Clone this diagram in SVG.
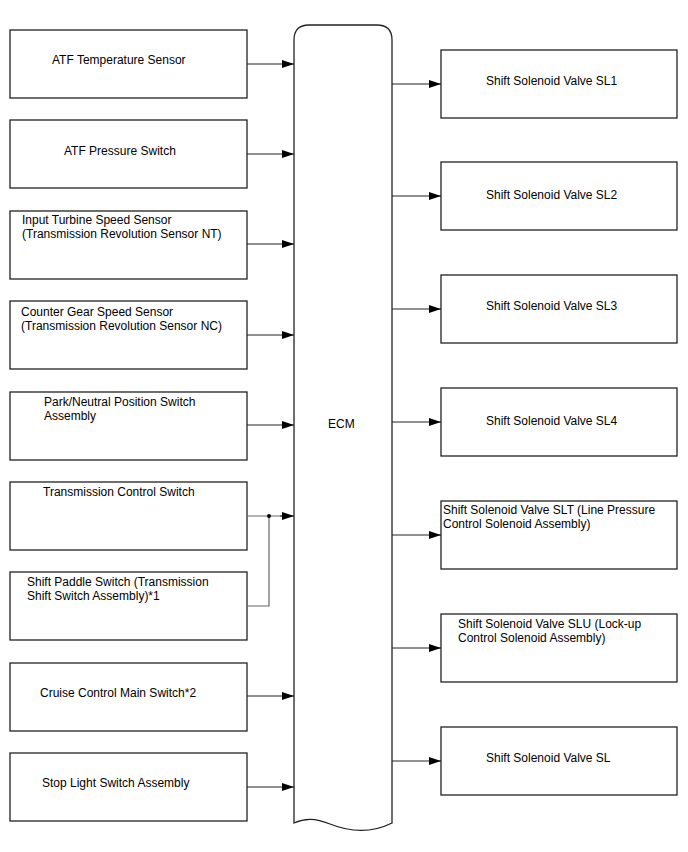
<svg xmlns="http://www.w3.org/2000/svg" width="688" height="852" viewBox="0 0 688 852">
<defs>
<marker id="ah" viewBox="0 0 12 8" refX="12" refY="4" markerWidth="12" markerHeight="8" markerUnits="userSpaceOnUse" orient="auto">
<path d="M0,0 L12,4 L0,8 Z" fill="#000"/>
</marker>
</defs>
<style>
.box{fill:#fff;stroke:#222;stroke-width:1.3}
.ecm{fill:#fff;stroke:#222;stroke-width:1.3}
text{font-family:"Liberation Sans",Arial,sans-serif;font-size:12px;fill:#000}
.c{fill:none;stroke:#222;stroke-width:1;marker-end:url(#ah)}
.j{fill:none;stroke:#666;stroke-width:1.2}
</style>
<rect width="688" height="852" fill="#fff"/>

<g id="ecm">
<path class="ecm" d="M294,823 L294,40 Q294,25 309,25 L377,25 Q392,25 392,40 L392,823 C370,834 350,832 330,824 C315,818 305,818 294,823 Z"/>
<text x="328" y="428">ECM</text>
</g>

<g id="atf-temp"><rect class="box" x="10" y="30" width="237" height="68"/><text x="52" y="64">ATF Temperature Sensor</text></g>
<g id="atf-press"><rect class="box" x="10" y="120" width="237" height="68"/><text x="64" y="155">ATF Pressure Switch</text></g>
<g id="nt-sensor"><rect class="box" x="10" y="211" width="237" height="68"/><text x="22" y="224">Input Turbine Speed Sensor</text><text x="22" y="238">(Transmission Revolution Sensor NT)</text></g>
<g id="nc-sensor"><rect class="box" x="10" y="301" width="237" height="68"/><text x="21" y="316">Counter Gear Speed Sensor</text><text x="21" y="330">(Transmission Revolution Sensor NC)</text></g>
<g id="pnp-switch"><rect class="box" x="10" y="392" width="237" height="68"/><text x="44" y="406">Park/Neutral Position Switch</text><text x="44" y="420">Assembly</text></g>
<g id="tc-switch"><rect class="box" x="10" y="482" width="237" height="68"/><text x="43" y="496">Transmission Control Switch</text></g>
<g id="paddle-switch"><rect class="box" x="10" y="572" width="237" height="68"/><text x="27" y="586">Shift Paddle Switch (Transmission</text><text x="27" y="600">Shift Switch Assembly)*1</text></g>
<g id="cruise-switch"><rect class="box" x="10" y="663" width="237" height="68"/><text x="40" y="697">Cruise Control Main Switch*2</text></g>
<g id="stop-switch"><rect class="box" x="10" y="753" width="237" height="68"/><text x="42" y="787">Stop Light Switch Assembly</text></g>

<g id="sl1"><rect class="box" x="441" y="50" width="236" height="68"/><text x="486" y="85">Shift Solenoid Valve SL1</text></g>
<g id="sl2"><rect class="box" x="441" y="162" width="236" height="68"/><text x="486" y="199">Shift Solenoid Valve SL2</text></g>
<g id="sl3"><rect class="box" x="441" y="275" width="236" height="68"/><text x="486" y="310">Shift Solenoid Valve SL3</text></g>
<g id="sl4"><rect class="box" x="441" y="388" width="236" height="68"/><text x="486" y="425">Shift Solenoid Valve SL4</text></g>
<g id="slt"><rect class="box" x="441" y="501" width="236" height="68"/><text x="443" y="514">Shift Solenoid Valve SLT (Line Pressure</text><text x="443" y="528">Control Solenoid Assembly)</text></g>
<g id="slu"><rect class="box" x="441" y="614" width="236" height="68"/><text x="458" y="628">Shift Solenoid Valve SLU (Lock-up</text><text x="458" y="642">Control Solenoid Assembly)</text></g>
<g id="sl"><rect class="box" x="441" y="727" width="236" height="68"/><text x="486" y="762">Shift Solenoid Valve SL</text></g>

<g id="connectors">
<line class="c" x1="247" y1="64" x2="294" y2="64"/>
<line class="c" x1="247" y1="154" x2="294" y2="154"/>
<line class="c" x1="247" y1="244" x2="294" y2="244"/>
<line class="c" x1="247" y1="335" x2="294" y2="335"/>
<line class="c" x1="247" y1="425" x2="294" y2="425"/>
<path class="j" d="M247,516 L282,516"/>
<path class="j" d="M247,606 L269,606 L269,516"/>
<circle cx="269" cy="516" r="2" fill="#000"/>
<line class="c" x1="280" y1="516" x2="294" y2="516"/>
<line class="c" x1="247" y1="696" x2="294" y2="696"/>
<line class="c" x1="247" y1="787" x2="294" y2="787"/>
<line class="c" x1="392" y1="84" x2="441" y2="84"/>
<line class="c" x1="392" y1="196" x2="441" y2="196"/>
<line class="c" x1="392" y1="309" x2="441" y2="309"/>
<line class="c" x1="392" y1="422" x2="441" y2="422"/>
<line class="c" x1="392" y1="535" x2="441" y2="535"/>
<line class="c" x1="392" y1="648" x2="441" y2="648"/>
<line class="c" x1="392" y1="761" x2="441" y2="761"/>
</g>
</svg>
